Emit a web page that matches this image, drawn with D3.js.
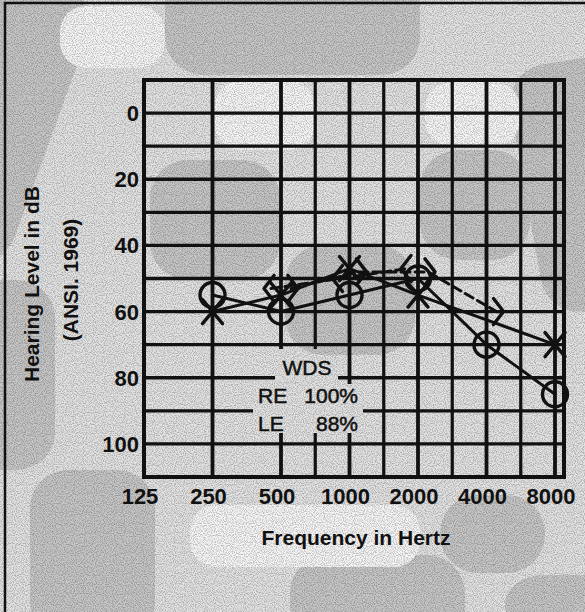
<!DOCTYPE html>
<html>
<head>
<meta charset="utf-8">
<script src="https://cdn.jsdelivr.net/npm/d3@7"></script>
<style>
  body { margin: 0; background: #fff; }
  text { font-family: "Liberation Sans", Arial, Helvetica, sans-serif; fill: #111; }
</style>
</head>
<body>
<script>
// audiogram values (dB HL)
var freqLabels = [125, 250, 500, 1000, 2000, 4000, 8000];
var testFreqs = [250, 500, 1000, 2000, 4000, 8000];
var rightAir = [55, 60, 55, 50, 70, 85];           // O
var leftAir = [60, 55, 47, 55, null, 70];          // X
var rightBone = [null, 53, 50, 47, null, null];    // <
var leftBone = [null, 53, 48, 48, 60, null];       // >
var dbTicks = [0, 20, 40, 60, 80, 100];
var wdsTitle = "WDS";
var wdsEars = ["RE", "LE"];
var wdsScores = ["100%", "88%"];

var svgWidth = 585;
var svgHeight = 612;

var svg = d3.select("body").append("svg")
  .attr("width", svgWidth)
  .attr("height", svgHeight);

var defs = svg.append("defs");

// speckle for the halftone look
var grain = defs.append("filter").attr("id", "grain")
  .attr("x", 0).attr("y", 0).attr("width", "100%").attr("height", "100%");
grain.append("feTurbulence")
  .attr("type", "fractalNoise").attr("baseFrequency", 0.9)
  .attr("numOctaves", 1).attr("seed", 7);
grain.append("feColorMatrix")
  .attr("type", "matrix")
  .attr("values", "0 0 0 0 0  0 0 0 0 0  0 0 0 0 0  -4 0 0 0 2.3");

// background paper: mid grey with darker and lighter rounded patches
svg.append("rect")
  .attr("width", svgWidth).attr("height", svgHeight)
  .attr("fill", "#e2e2e2");

var darkPatches = [
  [-70, -30, 125, 290, 20],
  [165, -70, 255, 145, 0],
  [525, 60, 110, 250, -10],
  [-40, 280, 95, 190, 0],
  [30, 470, 125, 170, 0],
  [290, 555, 175, 90, 0],
  [440, 495, 105, 78, 0],
  [505, 575, 110, 60, 0],
  [150, 160, 130, 120, 0],
  [285, 245, 130, 110, 0],
  [420, 150, 110, 110, 0]
];
var lightPatches = [
  [60, 6, 105, 62, 0],
  [190, 505, 230, 62, 0],
  [425, 82, 95, 64, 0],
  [215, 80, 100, 70, 0]
];

svg.append("g").selectAll("rect")
  .data(darkPatches)
  .enter()
  .append("rect")
  .attr("x", d => d[0]).attr("y", d => d[1])
  .attr("width", d => d[2]).attr("height", d => d[3])
  .attr("rx", 38)
  .attr("transform", d => `rotate(${d[4]}, ${d[0] + d[2] / 2}, ${d[1] + d[3] / 2})`)
  .attr("fill", "#c6c6c6");

svg.append("g").selectAll("rect")
  .data(lightPatches)
  .enter()
  .append("rect")
  .attr("x", d => d[0]).attr("y", d => d[1])
  .attr("width", d => d[2]).attr("height", d => d[3])
  .attr("rx", 26)
  .attr("fill", "#f5f5f5");

svg.append("rect")
  .attr("width", svgWidth).attr("height", svgHeight)
  .attr("filter", "url(#grain)")
  .attr("opacity", 0.22);

// outer frame (only top and left edges show)
svg.append("path")
  .attr("d", "M5,700 L5,3 L700,3")
  .attr("fill", "none").attr("stroke", "#111").attr("stroke-width", 2.5);

// scales
var x = d3.scaleLog().domain([125, 8000]).range([144, 555]);
var y = d3.scaleLinear().domain([-10, 110]).range([80, 477]);
var plotRight = 564;

// mask so the grid breaks around the WDS note
var mask = defs.append("mask").attr("id", "knock");
mask.append("rect").attr("width", svgWidth).attr("height", svgHeight).attr("fill", "#fff");
mask.append("rect").attr("x", 275).attr("y", 349).attr("width", 63).attr("height", 36).attr("fill", "#000");
mask.append("rect").attr("x", 253).attr("y", 384).attr("width", 110).attr("height", 49).attr("fill", "#000");

var grid = svg.append("g").attr("mask", "url(#knock)")
  .attr("stroke", "#111").attr("fill", "none");

var octaves = testFreqs;
var mids = [];
for (var i = 1; i < octaves.length - 1; i++) {
  mids.push(Math.sqrt(octaves[i] * octaves[i + 1]));
}

grid.selectAll(".vline")
  .data(octaves.concat(mids))
  .enter()
  .append("line")
  .attr("x1", d => x(d)).attr("x2", d => x(d))
  .attr("y1", y(-10)).attr("y2", y(110))
  .attr("stroke-width", (d, i) => i < octaves.length ? 3.8 : 3.2);

grid.selectAll(".hline")
  .data(d3.range(0, 101, 10))
  .enter()
  .append("line")
  .attr("x1", x(125)).attr("x2", plotRight)
  .attr("y1", d => y(d)).attr("y2", d => y(d))
  .attr("stroke-width", 3.3);

svg.append("rect")
  .attr("x", x(125)).attr("y", y(-10))
  .attr("width", plotRight - x(125)).attr("height", y(110) - y(-10))
  .attr("fill", "none").attr("stroke", "#111").attr("stroke-width", 4);

// axis labels
svg.append("g").selectAll("text")
  .data(dbTicks)
  .enter()
  .append("text")
  .attr("x", 139)
  .attr("y", d => y(d))
  .attr("dy", "0.36em")
  .attr("text-anchor", "end")
  .style("font-size", "22px")
  .style("font-weight", "bold")
  .text(d => d);

svg.append("g").selectAll("text")
  .data(freqLabels)
  .enter()
  .append("text")
  .attr("x", d => x(d))
  .attr("dx", -4)
  .attr("y", 504)
  .attr("text-anchor", "middle")
  .style("font-size", "22px")
  .style("font-weight", "bold")
  .text(d => d);

svg.append("text")
  .attr("x", 356).attr("y", 545)
  .attr("text-anchor", "middle")
  .style("font-size", "21px")
  .style("font-weight", "bold")
  .text("Frequency in Hertz");

svg.append("text")
  .attr("transform", "translate(39, 284) rotate(-90)")
  .attr("text-anchor", "middle")
  .style("font-size", "21px")
  .style("font-weight", "bold")
  .text("Hearing Level in dB");

svg.append("text")
  .attr("transform", "translate(78, 280) rotate(-90)")
  .attr("text-anchor", "middle")
  .style("font-size", "21px")
  .style("font-weight", "bold")
  .text("(ANSI. 1969)");

// WDS note
svg.append("text")
  .attr("x", 307).attr("y", 375)
  .attr("text-anchor", "middle")
  .style("font-size", "21px")
  .style("stroke", "#111").style("stroke-width", 0.5)
  .text(wdsTitle);

svg.append("g").selectAll("text")
  .data(wdsEars)
  .enter()
  .append("text")
  .attr("x", 258)
  .attr("y", (d, i) => 403 + i * 28)
  .style("font-size", "21px")
  .style("stroke", "#111").style("stroke-width", 0.5)
  .text(d => d);

svg.append("g").selectAll("text")
  .data(wdsScores)
  .enter()
  .append("text")
  .attr("x", 358)
  .attr("y", (d, i) => 403 + i * 28)
  .attr("text-anchor", "end")
  .style("font-size", "21px")
  .style("stroke", "#111").style("stroke-width", 0.5)
  .text(d => d);

// build point lists
function points(vals) {
  var out = [];
  vals.forEach(function(v, i) {
    if (v !== null) out.push({ f: testFreqs[i], db: v });
  });
  return out;
}

var line = d3.line()
  .x(d => x(d.f))
  .y(d => y(d.db));

var marks = svg.append("g")
  .attr("fill", "none").attr("stroke", "#111")
  .attr("stroke-linecap", "round").attr("stroke-linejoin", "round");

// bone conduction: dashed
marks.append("path")
  .datum(points(rightBone))
  .attr("d", d3.line().x(d => x(d.f) - 10).y(d => y(d.db)))
  .attr("stroke-width", 3)
  .attr("stroke-dasharray", "9,5");

marks.append("path")
  .datum(points(leftBone))
  .attr("d", d3.line().x(d => x(d.f) + 10).y(d => y(d.db)))
  .attr("stroke-width", 3)
  .attr("stroke-dasharray", "9,5");

// air conduction: solid
marks.append("path")
  .datum(points(rightAir))
  .attr("d", line)
  .attr("stroke-width", 3);

marks.append("path")
  .datum(points(leftAir))
  .attr("d", line)
  .attr("stroke-width", 3);

marks.selectAll(".ring")
  .data(points(rightAir))
  .enter()
  .append("circle")
  .attr("cx", d => x(d.f))
  .attr("cy", d => y(d.db))
  .attr("r", 12.5)
  .attr("stroke-width", 3.4);

marks.selectAll(".cross")
  .data(points(leftAir))
  .enter()
  .append("path")
  .attr("transform", d => `translate(${x(d.f)}, ${y(d.db)})`)
  .attr("d", "M-10,-12 L10,12 M10,-12 L-10,12")
  .attr("stroke-width", 3.4);

marks.selectAll(".lt")
  .data(points(rightBone))
  .enter()
  .append("path")
  .attr("transform", d => `translate(${x(d.f) - 12}, ${y(d.db)})`)
  .attr("d", "M5,-13 L-5,0 L5,13")
  .attr("stroke-width", 3.4);

marks.selectAll(".gt")
  .data(points(leftBone))
  .enter()
  .append("path")
  .attr("transform", d => `translate(${x(d.f) + 12}, ${y(d.db)})`)
  .attr("d", "M-5,-13 L5,0 L-5,13")
  .attr("stroke-width", 3.4);
</script>
</body>
</html>
